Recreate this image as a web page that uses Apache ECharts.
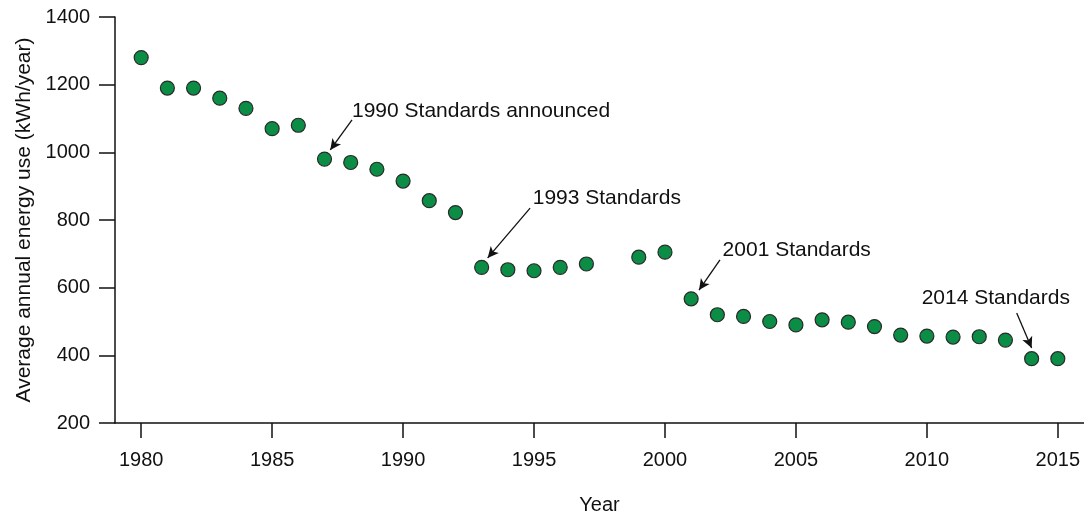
<!DOCTYPE html>
<html>
<head>
<meta charset="utf-8">
<script src="https://cdn.jsdelivr.net/npm/echarts@6/dist/echarts.min.js"></script>
<style>html,body{margin:0;padding:0;background:#fff;}#c{width:1084px;height:513px;}</style>
</head>
<body>
<div id="c"></div>
<script>
const years = [1980,1981,1982,1983,1984,1985,1986,1987,1988,1989,1990,1991,1992,1993,1994,1995,1996,1997,1999,2000,2001,2002,2003,2004,2005,2006,2007,2008,2009,2010,2011,2012,2013,2014,2015];
const energyUse = [1280,1190,1190,1160,1130,1070,1080,980,970,950,915,857,822,660,653,650,660,670,690,705,567,520,515,500,490,505,498,485,460,457,454,455,445,390,390];
const annotationTexts = ['1990 Standards announced','1993 Standards','2001 Standards','2014 Standards'];
const annotationTextPos = [[1988.05,1122],[1994.95,865],[2002.2,711],[2009.8,569]];
const arrowStarts = [[1988.05,1096],[1994.85,835],[2002.1,682],[2013.43,525]];
const arrowEnds = [[1987.22,1007],[1993.23,688],[2001.3,593],[2014.0,422]];
const xTicks = [1980,1985,1990,1995,2000,2005,2010,2015];

const chart = echarts.init(document.getElementById('c'), null, {renderer:'canvas'});
const FONT = 'Liberation Sans';
chart.setOption({
  animation:false,
  backgroundColor:'#fff',
  grid:{left:115,right:0,top:17,bottom:90,containLabel:false,outerBoundsMode:'none'},
  xAxis:{
    type:'value',min:1979,max:2016,
    interval:5,
    name:'Year',nameLocation:'middle',nameGap:72,
    nameTextStyle:{fontFamily:FONT,fontSize:20,color:'#111'},
    axisLine:{show:true,lineStyle:{color:'#111',width:1.5}},
    axisTick:{show:true,length:15,lineStyle:{color:'#111',width:1.5},customValues:xTicks},
    axisLabel:{fontFamily:FONT,fontSize:20,color:'#111',margin:27,customValues:xTicks,formatter:v=>String(v)},
    splitLine:{show:false}
  },
  yAxis:{
    type:'value',min:200,max:1400,interval:200,
    name:'Average annual energy use (kWh/year)',nameLocation:'middle',nameGap:80,nameRotate:90,
    nameTextStyle:{fontFamily:FONT,fontSize:21,color:'#111'},
    axisLine:{show:true,lineStyle:{color:'#111',width:1.5}},
    axisTick:{show:true,length:16,lineStyle:{color:'#111',width:1.5}},
    axisLabel:{fontFamily:FONT,fontSize:20,color:'#111',margin:25,formatter:v=>String(v)},
    splitLine:{show:false}
  },
  series:[
    {
      type:'scatter',
      data:years.map((y,i)=>[y,energyUse[i]]),
      symbol:'circle',symbolSize:14,
      itemStyle:{color:'#0b8d46',borderColor:'#2a2a2a',borderWidth:1.2,opacity:1},
      z:3,
      markLine:{
        silent:true,animation:false,
        symbol:['none','arrow'],symbolSize:[8,11],
        lineStyle:{color:'#111',width:1.3,type:'solid',opacity:1},
        label:{show:false},
        data:arrowStarts.map((s,i)=>[{coord:s},{coord:arrowEnds[i]}])
      }
    },
    {
      type:'scatter',
      data:annotationTextPos.map((p,i)=>({value:p,name:annotationTexts[i]})),
      symbolSize:0,silent:true,
      itemStyle:{opacity:1},
      label:{show:true,position:'right',distance:0,formatter:p=>p.name,fontFamily:FONT,fontSize:21,color:'#111',opacity:1},
      z:4
    }
  ]
});
</script>
</body>
</html>
